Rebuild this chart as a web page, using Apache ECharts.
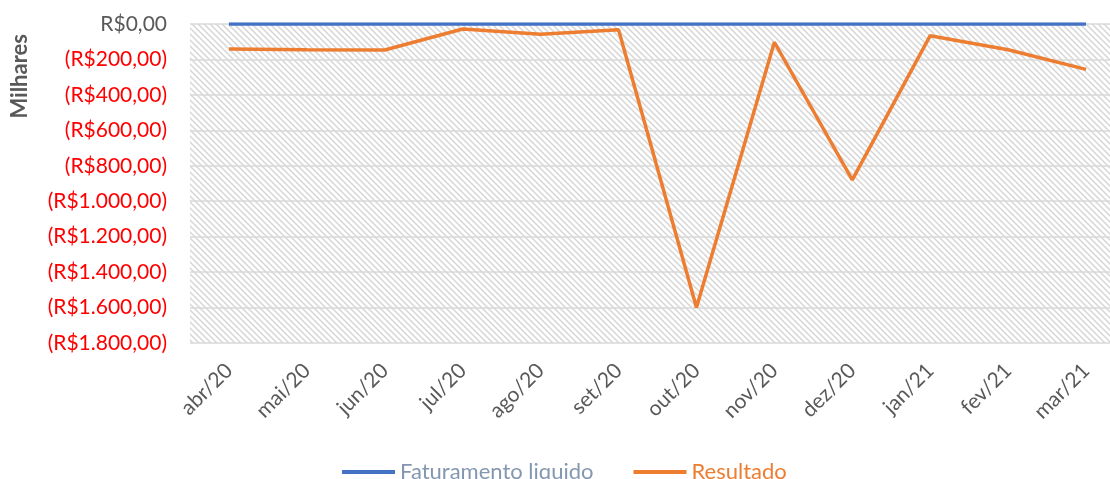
<!DOCTYPE html>
<html>
<head>
<meta charset="utf-8">
<script src="https://cdn.jsdelivr.net/npm/echarts@6/dist/echarts.min.js"></script>
<style>html,body{margin:0;padding:0;background:#fff;overflow:hidden;}#c{width:1125px;height:479px;}</style>
</head>
<body>
<div id="c"></div>
<script>
var categories = ['abr/20','mai/20','jun/20','jul/20','ago/20','set/20','out/20','nov/20','dez/20','jan/21','fev/21','mar/21'];
var faturamento = [0,0,0,0,0,0,0,0,0,0,0,0];
var resultado = [-141,-145,-147,-28,-58,-32,-1600,-103,-880,-66,-145,-256];
var yTicks = {min: -1800, max: 0, interval: 200};

var FONT = 'Lato';

function fmt(v){
  var a = Math.abs(v);
  var s = String(a).replace(/\B(?=(\d{3})+(?!\d))/g, '.');
  return v === 0 ? 'R$0,00' : (v < 0 ? '(R$' + s + ',00)' : 'R$' + s + ',00');
}

// hatch pattern
var tile = document.createElement('canvas');
tile.width = 6; tile.height = 6;
var g = tile.getContext('2d');
g.fillStyle = '#ffffff'; g.fillRect(0,0,6,6);
g.strokeStyle = '#d6d6d6'; g.lineWidth = 1.5;
g.beginPath();
g.moveTo(-1,-1); g.lineTo(7,7);
g.moveTo(-7,-1); g.lineTo(1,7);
g.moveTo(5,-1); g.lineTo(13,7);
g.stroke();

var chart = echarts.init(document.getElementById('c'), null, {renderer:'canvas'});
chart.setOption({
  animation: false,
  grid: {left: 190, right: 0, top: 24, bottom: 136, show: true, borderWidth: 0,
         backgroundColor: {image: tile, repeat: 'repeat'}},
  graphic: [{
    type: 'text', left: 9, top: 34, rotation: Math.PI/2,
    style: {text: 'Milhares', font: 'bold 22px ' + FONT, fill: '#595959'}
  }],
  legend: {
    top: 456, left: 337, itemGap: 40, itemWidth: 53, itemHeight: 4, icon: 'rect',
    textStyle: {fontFamily: FONT, fontSize: 22},
    data: [
      {name: 'Faturamento liquido', textStyle: {color: '#8497B0'}},
      {name: 'Resultado', textStyle: {color: '#ED7D31'}}
    ]
  },
  xAxis: {
    type: 'category', data: categories, boundaryGap: true,
    axisLine: {show: false}, axisTick: {show: false},
    axisLabel: {rotate: 45, margin: 24, color: '#595959', fontFamily: FONT, fontSize: 21, interval: 0}
  },
  yAxis: {
    type: 'value', min: yTicks.min, max: yTicks.max, interval: yTicks.interval,
    axisLine: {show: false}, axisTick: {show: false},
    splitLine: {lineStyle: {color: '#d9d9d9', width: 1.5}},
    axisLabel: {
      margin: 23, fontFamily: FONT, fontSize: 21,
      formatter: fmt,
      color: function(v){ return Number(v) < 0 ? '#FF0000' : '#595959'; }
    }
  },
  series: [
    {name: 'Faturamento liquido', type: 'line', data: faturamento, symbol: 'none',
     lineStyle: {color: '#4472C4', width: 3.5}, itemStyle: {color: '#4472C4'}, z: 3},
    {name: 'Resultado', type: 'line', data: resultado, symbol: 'none',
     lineStyle: {color: '#ED7D31', width: 3.5}, itemStyle: {color: '#ED7D31'}, z: 4}
  ]
});
</script>
</body>
</html>
